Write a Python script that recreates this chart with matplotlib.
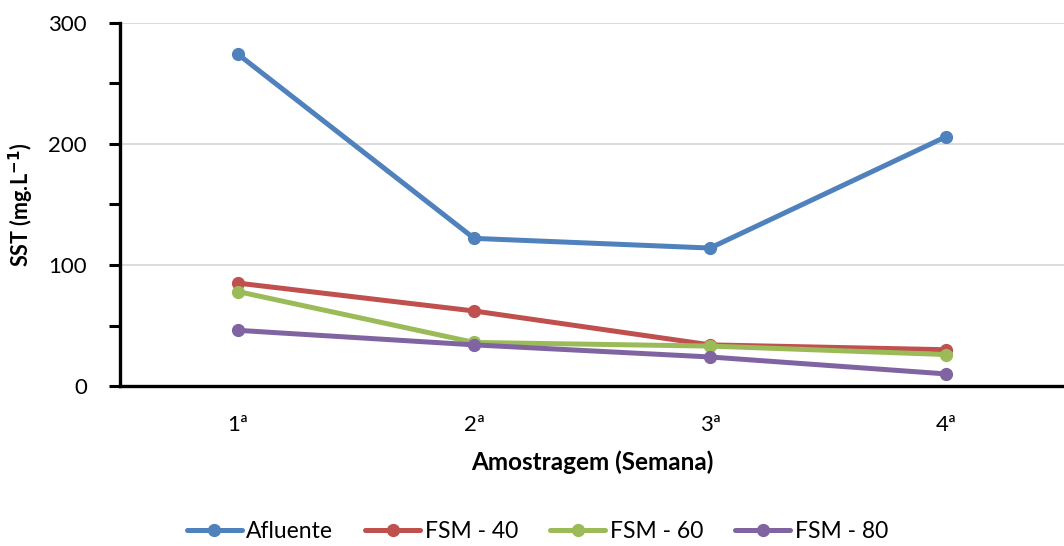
import matplotlib
matplotlib.use("Agg")
import matplotlib.pyplot as plt
from matplotlib.ticker import MultipleLocator

plt.rcParams['font.family'] = ['Lato', 'DejaVu Sans']

categories = ["1ª", "2ª", "3ª", "4ª"]
afluente = [274, 122, 114, 206]
fsm40 = [85, 62, 34, 30]
fsm60 = [78, 36, 33, 26]
fsm80 = [46, 34, 24, 10]

series = [
    ("Afluente", afluente, "#4F81BD"),
    ("FSM - 40", fsm40, "#C0504D"),
    ("FSM - 60", fsm60, "#9BBB59"),
    ("FSM - 80", fsm80, "#8064A2"),
]

fig = plt.figure(figsize=(10.64, 5.46), dpi=100)
ax = fig.add_axes([0.113, 0.293, 0.887, 0.665])

x = list(range(1, len(categories) + 1))
for name, vals, color in series:
    ax.plot(x, vals, color=color, lw=3.6, marker='o', markersize=8.5,
            label=name, solid_capstyle='round', zorder=3)

ax.set_xlim(0.5, 4.5)
ax.set_ylim(0, 300)
ax.set_xticks(x)
ax.set_xticklabels(categories)
ax.yaxis.set_major_locator(MultipleLocator(100))
ax.yaxis.set_minor_locator(MultipleLocator(50))
ax.grid(axis='y', which='major', color='#D9D9D9', lw=1.3, zorder=0)
ax.set_axisbelow(True)

for s in ['top', 'right']:
    ax.spines[s].set_visible(False)
for s in ['left', 'bottom']:
    ax.spines[s].set_linewidth(2.4)
    ax.spines[s].set_color('black')

ax.tick_params(axis='y', which='both', direction='out', length=8, width=2.2,
               labelsize=16, pad=16)
ax.tick_params(axis='x', which='both', length=0, labelsize=16, pad=21)

ax.set_ylabel("SST (mg.L$^{\\mathbf{-1}}$)", fontsize=15.5, fontweight='bold')
ax.yaxis.set_label_coords(-0.089, 0.5)
ax.set_xlabel("Amostragem (Semana)", fontsize=17.5, fontweight='bold', labelpad=11)

fig.legend(loc='lower center', bbox_to_anchor=(0.505, -0.03), ncol=4, frameon=False,
           fontsize=16.5, handlelength=2.4, columnspacing=1.4, handletextpad=0.2)

fig.savefig("out.png", dpi=100)
